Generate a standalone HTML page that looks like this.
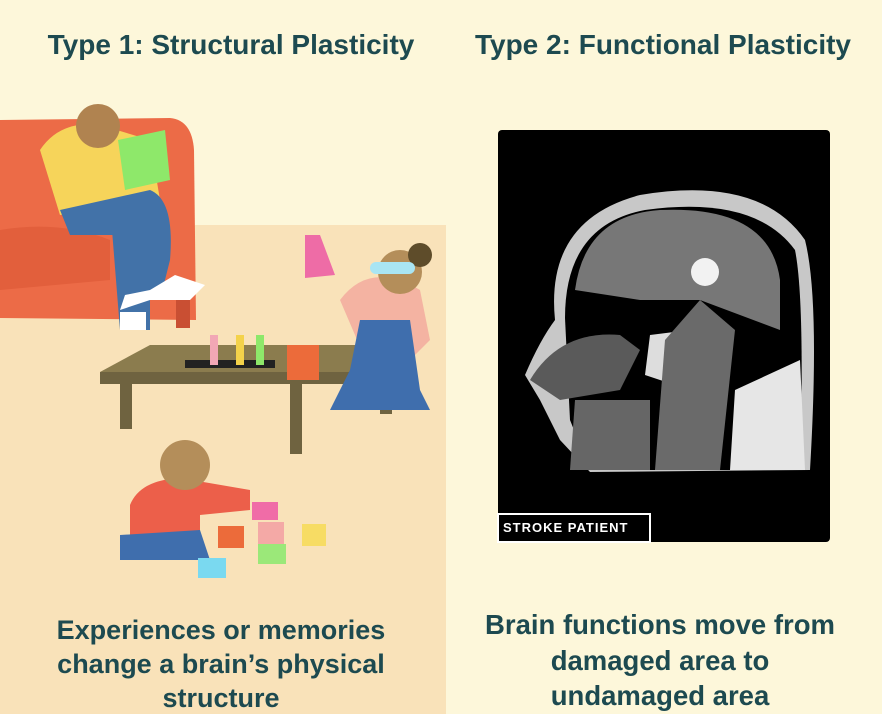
<!DOCTYPE html>
<html><head><meta charset="utf-8"><style>
body{margin:0;width:882px;height:714px;overflow:hidden;background:#fdf7da;font-family:"Liberation Sans",sans-serif}
svg{position:absolute;left:0;top:0}
.t{font-weight:bold;fill:#1d4a50;text-anchor:middle}
</style></head><body>
<svg width="882" height="714">
<rect x="0" y="0" width="882" height="714" fill="#fdf7da"/>
<rect x="0" y="225" width="446" height="489" fill="#f9e2b9"/>
<text class="t" x="231" y="54" font-size="28">Type 1: Structural Plasticity</text>
<text class="t" x="663" y="54" font-size="28">Type 2: Functional Plasticity</text>
<g>
<path d="M0 120 L170 118 Q192 120 194 150 L196 320 L0 318 Z" fill="#ec6b47"/>
<path d="M0 230 Q60 220 110 240 L110 280 L0 290 Z" fill="#e25f3c"/>
<rect x="176" y="300" width="14" height="28" fill="#c94f33"/>
<path d="M40 150 Q60 120 100 125 L150 140 L160 200 L60 215 Z" fill="#f6d45a"/>
<path d="M60 210 L150 190 Q175 200 170 260 L160 300 L135 300 L128 235 L70 235 Z" fill="#4272a8"/>
<path d="M112 230 L150 230 L150 330 L120 330 Z" fill="#4272a8"/>
<path d="M120 310 L150 300 L190 300 L205 285 L175 275 L150 290 L125 295 Z" fill="#fff"/>
<rect x="120" y="312" width="26" height="18" fill="#fff"/>
<circle cx="98" cy="126" r="22" fill="#b08350"/>
<path d="M118 140 L165 130 L170 180 L125 190 Z" fill="#8ee86a"/>
</g>
<g>
<path d="M100 372 L150 345 L400 345 L405 378 Z" fill="#8b7c4e"/>
<rect x="100" y="372" width="305" height="12" fill="#6f6340"/>
<rect x="120" y="384" width="12" height="45" fill="#6f6340"/>
<rect x="290" y="384" width="12" height="70" fill="#6f6340"/>
<rect x="380" y="384" width="12" height="30" fill="#6f6340"/>
<rect x="185" y="360" width="90" height="8" fill="#222"/>
<rect x="210" y="335" width="8" height="30" fill="#f2a7b5"/>
<rect x="236" y="335" width="8" height="30" fill="#f4d24a"/>
<rect x="256" y="335" width="8" height="30" fill="#8ee86a"/>
<rect x="287" y="345" width="32" height="35" fill="#ec6b3a"/>
<path d="M305 235 L320 235 L335 275 L305 278 Z" fill="#ee6ca6"/>
<path d="M340 300 Q370 260 420 290 L430 340 L400 370 L370 370 Z" fill="#f4b3a2"/>
<path d="M360 320 L410 320 L420 390 L430 410 L330 410 L350 370 Z" fill="#3f6ead"/>
<circle cx="400" cy="272" r="22" fill="#b48e5a"/>
<circle cx="420" cy="255" r="12" fill="#5e4c2a"/>
<rect x="370" y="262" width="45" height="12" rx="6" fill="#a9e5f3"/>
</g>
<g>
<path d="M130 505 Q140 480 180 478 L250 490 L250 510 L200 515 L200 555 L130 555 Z" fill="#ec5f4a"/>
<path d="M120 535 L200 530 L210 560 L120 560 Z" fill="#3f6ead"/>
<circle cx="185" cy="465" r="25" fill="#b48e5a"/>
<rect x="218" y="526" width="26" height="22" fill="#ec6b3a"/>
<rect x="258" y="522" width="26" height="22" fill="#f4a9a6"/>
<rect x="302" y="524" width="24" height="22" fill="#f7dc64"/>
<rect x="258" y="544" width="28" height="20" fill="#9be879"/>
<rect x="198" y="558" width="28" height="20" fill="#7ad9f0"/>
<rect x="252" y="502" width="26" height="18" fill="#f06ca7"/>
</g>
<g>
<rect x="498" y="130" width="332" height="412" rx="4" fill="#000"/>
<path d="M525 375 Q540 340 555 320 Q545 220 640 195 Q760 175 805 240 Q820 300 810 470 L590 472 L560 440 L540 400 Z" fill="#c8c8c8"/>
<path d="M565 318 Q565 225 645 210 Q755 195 795 250 Q805 300 800 470 L590 470 L570 420 Z" fill="#000"/>
<path d="M575 290 Q585 215 660 210 Q770 205 780 280 L780 330 L700 300 L640 300 Z" fill="#777"/>
<path d="M530 380 Q560 330 620 335 L640 350 L620 390 L560 400 Z" fill="#5a5a5a"/>
<path d="M650 335 L690 330 L690 390 L645 375 Z" fill="#ddd"/>
<path d="M665 340 L700 300 L735 330 L720 470 L655 470 Z" fill="#6a6a6a"/>
<path d="M575 400 L650 400 L650 470 L570 470 Z" fill="#666"/>
<path d="M735 390 L800 360 L805 470 L730 470 Z" fill="#e6e6e6"/>
<circle cx="705" cy="272" r="14" fill="#fff" opacity="0.9"/>
<rect x="498" y="514" width="152" height="28" fill="#000" stroke="#fff" stroke-width="2"/>
<text x="503" y="532" font-size="13" font-weight="bold" fill="#fff" letter-spacing="1">STROKE PATIENT</text>
</g>
<g>
<text class="t" x="221" y="639" font-size="27">Experiences or memories</text>
<text class="t" x="221" y="673" font-size="27">change a brain’s physical</text>
<text class="t" x="221" y="707" font-size="27">structure</text>
</g>
<g>
<text class="t" x="660" y="634" font-size="27.5">Brain functions move from</text>
<text class="t" x="660" y="670" font-size="27.5">damaged area to</text>
<text class="t" x="660" y="705" font-size="27.5">undamaged area</text>
</g>
</svg>
</body></html>
